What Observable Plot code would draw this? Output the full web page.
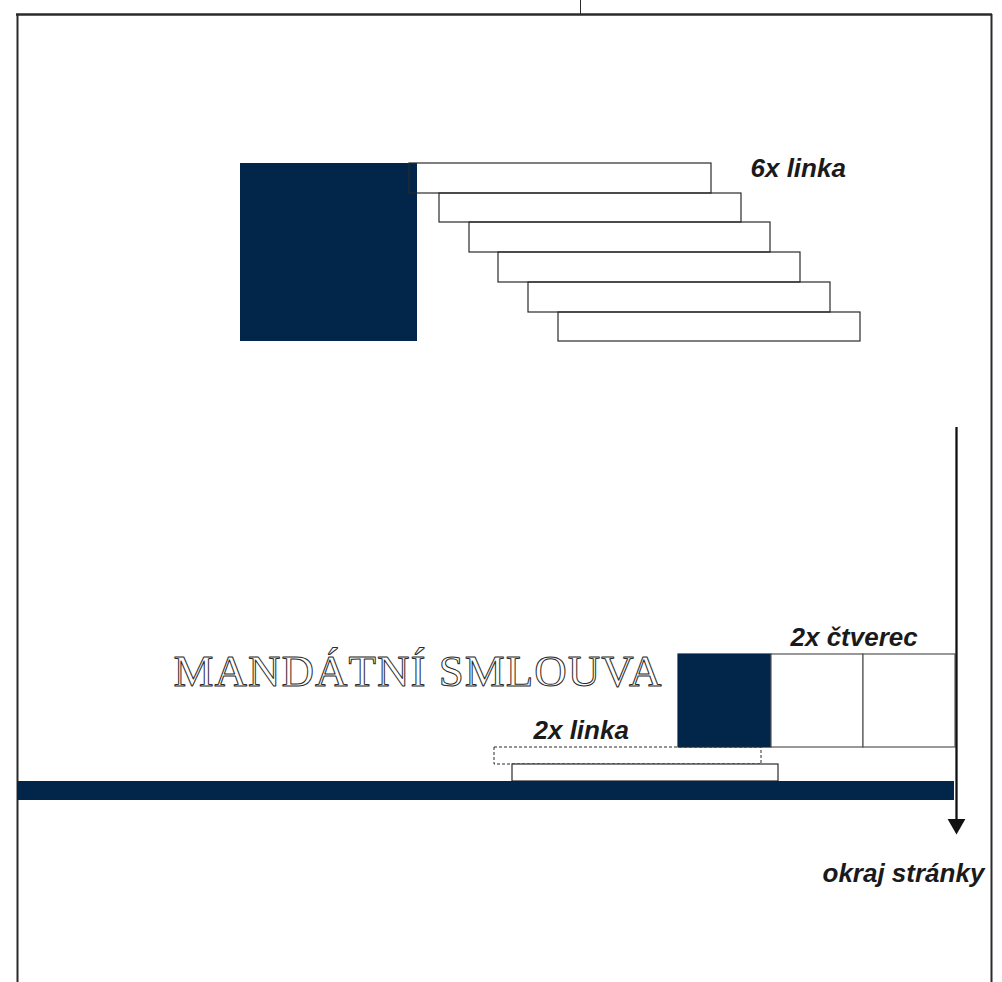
<!DOCTYPE html>
<html>
<head>
<meta charset="utf-8">
<script src="https://cdn.jsdelivr.net/npm/d3@7"></script>
<script src="https://cdn.jsdelivr.net/npm/@observablehq/plot@0.6"></script>
<style>
  html, body { margin: 0; padding: 0; background: #fff; }
  #chart svg { display: block; }
</style>
</head>
<body>
<div id="chart"></div>
<script>
// ---- diagram data (page units, 1 unit = 1 px of the reference page) ----
const frameX = [17, 991];           // left / right page frame
const frameTop = [14];              // top page frame
const topTick = [580];              // small centre mark above the frame

// "6x linka" – six stacked line boxes
const linkaX1 = [409, 439, 469, 498, 528, 558];
const linkaX2 = [711, 741, 770, 800, 830, 860];
const linkaY1 = [163, 193, 222, 252, 282, 312];
const linkaY2 = [193, 222, 252, 282, 312, 341];

// big square at the top
const bigSquareX = [240, 417];
const bigSquareY = [163, 341];

// "2x čtverec" – one filled + two empty squares
const squareX = [678, 771, 863, 955];
const squareY = [654, 747];
const squareKind = ["filled", "empty", "empty"];

// "2x linka" – dashed + solid line box
const linkaBoxX1 = [494, 512];
const linkaBoxX2 = [761, 778];
const linkaBoxY1 = [747, 764];
const linkaBoxY2 = [764, 781];
const linkaBoxStyle = ["dashed", "solid"];

// blue band
const bandX = [17, 954];
const bandY = [781, 800];

// arrow to the page edge
const arrowX = [956];
const arrowY = [427, 834];

// labels
const labels = ["6x linka", "2x čtverec", "2x linka", "okraj stránky"];
const labelX = [750, 790, 533, 822];
const labelY = [176, 645, 738, 881];

const title = "MANDÁTNÍ SMLOUVA";
const titleX = 173;
const titleY = 685;

// ---- build tables ----
const navy = "#01264a";
const ink = "#2a2a2a";

const linkaRects = linkaX1.map((x1, i) => ({x1, x2: linkaX2[i], y1: linkaY1[i], y2: linkaY2[i]}));
const smallSquares = squareKind.map((k, i) => ({x1: squareX[i], x2: squareX[i + 1], y1: squareY[0], y2: squareY[1], k}));
const linkaBoxes = linkaBoxStyle.map((s, i) => ({x1: linkaBoxX1[i], x2: linkaBoxX2[i], y1: linkaBoxY1[i], y2: linkaBoxY2[i], s}));
const labelData = labels.map((t, i) => ({t, x: labelX[i], y: labelY[i]}));

const W = 1002, H = 982;

const plot = Plot.plot({
  width: W,
  height: H,
  margin: 0,
  x: {domain: [0, W], range: [0, W], axis: null},
  y: {domain: [0, H], range: [0, H], axis: null},
  style: {background: "#fff", overflow: "visible"},
  marks: [
    // page frame
    Plot.ruleX(frameX, {x: d => d, y1: frameTop[0], y2: H + 10, stroke: ink, strokeWidth: 2}),
    Plot.ruleY(frameTop, {y: d => d, x1: frameX[0] - 1, x2: frameX[1] + 1, stroke: ink, strokeWidth: 2.4}),
    Plot.ruleX(topTick, {x: d => d, y1: 0, y2: frameTop[0], stroke: ink, strokeWidth: 1}),

    // big navy square
    Plot.rect([0], {x1: () => bigSquareX[0], x2: () => bigSquareX[1], y1: () => bigSquareY[0], y2: () => bigSquareY[1], fill: navy}),
    // six line boxes
    Plot.rect(linkaRects, {x1: "x1", x2: "x2", y1: "y1", y2: "y2", fill: "none", stroke: ink, strokeWidth: 1.2}),

    // lower squares
    Plot.rect(smallSquares, {x1: "x1", x2: "x2", y1: "y1", y2: "y2",
      fill: d => d.k === "filled" ? navy : "#fff",
      stroke: d => d.k === "filled" ? navy : "#555", strokeWidth: 1.2}),

    // 2x linka boxes
    Plot.rect(linkaBoxes.filter(d => d.s === "dashed"), {x1: "x1", x2: "x2", y1: "y1", y2: "y2", fill: "none", stroke: ink, strokeWidth: 1, strokeDasharray: "3,2"}),
    Plot.rect(linkaBoxes.filter(d => d.s === "solid"), {x1: "x1", x2: "x2", y1: "y1", y2: "y2", fill: "#fff", stroke: ink, strokeWidth: 1.2}),

    // blue band
    Plot.rect([0], {x1: () => bandX[0], x2: () => bandX[1], y1: () => bandY[0], y2: () => bandY[1], fill: navy}),

    // arrow
    Plot.ruleX(arrowX, {x: d => d, y1: arrowY[0], y2: arrowY[1] - 12, stroke: "#111", strokeWidth: 2.3}),
    Plot.dot(arrowX, {x: d => d, y: arrowY[1] - 10.3, symbol: "triangle2", r: 8.5, rotate: 180, fill: "#111", stroke: "none"}),

    // labels
    Plot.text(labelData, {x: "x", y: "y", text: "t", textAnchor: "start", lineAnchor: "bottom",
      fontFamily: "Liberation Sans, Arial, sans-serif", fontStyle: "italic", fontWeight: "bold",
      fontSize: 26, fill: "#1a1a1a"}),

    // outlined title
    Plot.text([title], {x: () => titleX, y: () => titleY, text: d => d, textAnchor: "start", lineAnchor: "bottom",
      fontFamily: "Liberation Serif, Times New Roman, serif", fontSize: 45,
      fill: "#fff", stroke: "#2a2a2a", strokeWidth: 1, paintOrder: "fill"})
  ]
});

d3.select(plot).selectAll("text")
  .filter(function() { return this.textContent === title; })
  .style("letter-spacing", "1px");

document.getElementById("chart").appendChild(plot);
</script>
</body>
</html>
